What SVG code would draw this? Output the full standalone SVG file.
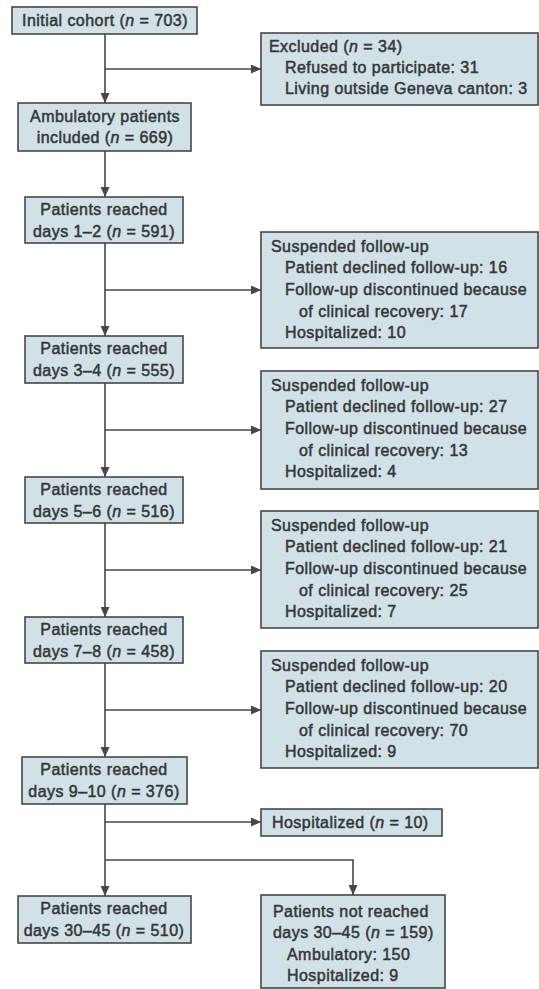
<svg xmlns="http://www.w3.org/2000/svg" width="539" height="989" viewBox="0 0 539 989">
<style>
.box{fill:#d0e1e7;stroke:#474747;stroke-width:1.6}
.t{font-family:"Liberation Sans",Arial,sans-serif;font-size:16px;letter-spacing:0.45px;fill:#363636;stroke:#363636;stroke-width:0.5}
.c{text-anchor:middle}
.i{font-style:italic}
.ln{fill:none;stroke:#474747;stroke-width:1.6}
</style>
<defs>
<marker id="ah" markerUnits="userSpaceOnUse" markerWidth="10" markerHeight="9" refX="10" refY="4.5" orient="auto">
<path d="M0,0 L10,4.5 L0,9 Z" fill="#474747"/>
</marker>
</defs>
<rect width="539" height="989" fill="#ffffff"/>
<g id="connectors">
<line class="ln" x1="105" y1="34" x2="105" y2="103" marker-end="url(#ah)"/>
<line class="ln" x1="105" y1="69" x2="261" y2="69" marker-end="url(#ah)"/>
<line class="ln" x1="105" y1="151" x2="105" y2="197" marker-end="url(#ah)"/>
<line class="ln" x1="105" y1="243" x2="105" y2="336" marker-end="url(#ah)"/>
<line class="ln" x1="105" y1="290" x2="261" y2="290" marker-end="url(#ah)"/>
<line class="ln" x1="105" y1="383" x2="105" y2="477" marker-end="url(#ah)"/>
<line class="ln" x1="105" y1="430" x2="261" y2="430" marker-end="url(#ah)"/>
<line class="ln" x1="105" y1="523" x2="105" y2="617" marker-end="url(#ah)"/>
<line class="ln" x1="105" y1="570" x2="261" y2="570" marker-end="url(#ah)"/>
<line class="ln" x1="105" y1="663" x2="105" y2="757" marker-end="url(#ah)"/>
<line class="ln" x1="105" y1="710" x2="261" y2="710" marker-end="url(#ah)"/>
<line class="ln" x1="105" y1="804" x2="105" y2="896" marker-end="url(#ah)"/>
<line class="ln" x1="105" y1="822" x2="261" y2="822" marker-end="url(#ah)"/>
<polyline class="ln" points="105,860 353,860 353,895" marker-end="url(#ah)"/>
</g>
<g id="initial">
<rect class="box" x="12" y="7" width="185" height="27"/>
<text class="t c" x="105" y="26">Initial cohort (<tspan class="i">n</tspan> = 703)</text>
</g>
<g id="excluded">
<rect class="box" x="261" y="33" width="277" height="72"/>
<text class="t" x="269" y="52">Excluded (<tspan class="i">n</tspan> = 34)</text>
<text class="t" x="285" y="73">Refused to participate: 31</text>
<text class="t" x="285" y="94">Living outside Geneva canton: 3</text>
</g>
<g id="included">
<rect class="box" x="18" y="103" width="173" height="48"/>
<text class="t c" x="105" y="122">Ambulatory patients</text>
<text class="t c" x="105" y="143">included (<tspan class="i">n</tspan> = 669)</text>
</g>
<g id="d12">
<rect class="box" x="25" y="197" width="158" height="46"/>
<text class="t c" x="104" y="215">Patients reached</text>
<text class="t c" x="104" y="237">days 1–2 (<tspan class="i">n</tspan> = 591)</text>
</g>
<g id="s1">
<rect class="box" x="261" y="232" width="277" height="116"/>
<text class="t" x="271" y="252">Suspended follow-up</text>
<text class="t" x="285" y="273">Patient declined follow-up: 16</text>
<text class="t" x="285" y="295">Follow-up discontinued because</text>
<text class="t" x="299" y="317">of clinical recovery: 17</text>
<text class="t" x="285" y="338">Hospitalized: 10</text>
</g>
<g id="d34">
<rect class="box" x="25" y="336" width="158" height="47"/>
<text class="t c" x="104" y="354">Patients reached</text>
<text class="t c" x="104" y="376">days 3–4 (<tspan class="i">n</tspan> = 555)</text>
</g>
<g id="s2">
<rect class="box" x="261" y="371" width="277" height="118"/>
<text class="t" x="271" y="391">Suspended follow-up</text>
<text class="t" x="285" y="412">Patient declined follow-up: 27</text>
<text class="t" x="285" y="434">Follow-up discontinued because</text>
<text class="t" x="299" y="456">of clinical recovery: 13</text>
<text class="t" x="285" y="477">Hospitalized: 4</text>
</g>
<g id="d56">
<rect class="box" x="25" y="477" width="158" height="46"/>
<text class="t c" x="104" y="495">Patients reached</text>
<text class="t c" x="104" y="517">days 5–6 (<tspan class="i">n</tspan> = 516)</text>
</g>
<g id="s3">
<rect class="box" x="261" y="511" width="277" height="117"/>
<text class="t" x="271" y="531">Suspended follow-up</text>
<text class="t" x="285" y="552">Patient declined follow-up: 21</text>
<text class="t" x="285" y="574">Follow-up discontinued because</text>
<text class="t" x="299" y="596">of clinical recovery: 25</text>
<text class="t" x="285" y="617">Hospitalized: 7</text>
</g>
<g id="d78">
<rect class="box" x="25" y="617" width="158" height="46"/>
<text class="t c" x="104" y="635">Patients reached</text>
<text class="t c" x="104" y="657">days 7–8 (<tspan class="i">n</tspan> = 458)</text>
</g>
<g id="s4">
<rect class="box" x="261" y="651" width="277" height="117"/>
<text class="t" x="271" y="671">Suspended follow-up</text>
<text class="t" x="285" y="692">Patient declined follow-up: 20</text>
<text class="t" x="285" y="714">Follow-up discontinued because</text>
<text class="t" x="299" y="736">of clinical recovery: 70</text>
<text class="t" x="285" y="757">Hospitalized: 9</text>
</g>
<g id="d910">
<rect class="box" x="22" y="757" width="165" height="47"/>
<text class="t c" x="104" y="775">Patients reached</text>
<text class="t c" x="104" y="797">days 9–10 (<tspan class="i">n</tspan> = 376)</text>
</g>
<g id="hosp">
<rect class="box" x="261" y="809" width="181" height="27"/>
<text class="t" x="272" y="828">Hospitalized (<tspan class="i">n</tspan> = 10)</text>
</g>
<g id="d3045">
<rect class="box" x="18" y="896" width="173" height="47"/>
<text class="t c" x="104" y="914">Patients reached</text>
<text class="t c" x="104" y="936">days 30–45 (<tspan class="i">n</tspan> = 510)</text>
</g>
<g id="notreached">
<rect class="box" x="261" y="895" width="184" height="93"/>
<text class="t" x="273" y="917">Patients not reached</text>
<text class="t" x="273" y="938">days 30–45 (<tspan class="i">n</tspan> = 159)</text>
<text class="t" x="287" y="960">Ambulatory: 150</text>
<text class="t" x="287" y="981">Hospitalized: 9</text>
</g>
</svg>
